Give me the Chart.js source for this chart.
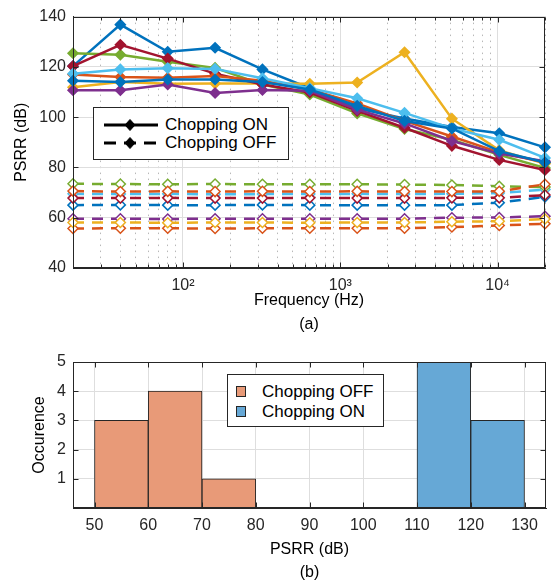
<!DOCTYPE html>
<html>
<head>
<meta charset="utf-8">
<script src="https://cdn.jsdelivr.net/npm/chart.js@4.4.1/dist/chart.umd.min.js"></script>
<style>
  html, body { margin: 0; padding: 0; background: #fff; }
  #wrap { position: relative; width: 553px; height: 584px; font-family: 'Liberation Sans', Arial, Helvetica, sans-serif; color: #000; }
  canvas { position: absolute; left: 0; }
  #psrr { top: 0; }
  #hist { top: 340px; }
  .legend { position: absolute; background: #fff; border: 1px solid #262626; box-sizing: border-box; }
  .row { position: absolute; left: 0; height: 18px; width: 100%; }
  .row svg, .row .patch { position: absolute; }
  .row span { position: absolute; line-height: 18px; font-size: 17px; white-space: nowrap; }
  .patch { width: 10px; height: 11px; border: 1px solid #262626; box-sizing: border-box; top: 3px; }
</style>
</head>
<body>
<div id="wrap">
  <canvas id="psrr" width="553" height="340"></canvas>
  <canvas id="hist" width="553" height="244"></canvas>

  <div class="legend" style="left:93px;top:107px;width:196px;height:53px">
    <div class="row" style="top:8px">
      <svg width="54" height="18" style="left:10px;top:0">
        <line x1="0" y1="9" x2="54" y2="9" stroke="#000" stroke-width="3"/>
        <path d="M26 3.5 L31 9 L26 14.5 L21 9 Z" fill="#000" stroke="#000" stroke-width="1"/>
      </svg>
      <span style="left:71px">Chopping ON</span>
    </div>
    <div class="row" style="top:26px">
      <svg width="54" height="18" style="left:10px;top:0">
        <line x1="0" y1="9" x2="54" y2="9" stroke="#000" stroke-width="3" stroke-dasharray="12 8"/>
        <path d="M26 3.5 L31 9 L26 14.5 L21 9 Z" fill="#000" stroke="#000" stroke-width="1"/>
      </svg>
      <span style="left:71px">Chopping OFF</span>
    </div>
  </div>

  <div class="legend" style="left:227px;top:374px;width:157px;height:53px">
    <div class="row" style="top:8px">
      <div class="patch" style="left:8px;background:#E89A78"></div>
      <span style="left:34px">Chopping OFF</span>
    </div>
    <div class="row" style="top:28px">
      <div class="patch" style="left:8px;background:#66A8D6"></div>
      <span style="left:34px">Chopping ON</span>
    </div>
  </div>
</div>

<script>
// Frequency sweep (Hz)
const FREQ = [20, 40, 80, 160, 320, 640, 1280, 2560, 5120, 10240, 20000];

// Chopping ON, PSRR (dB)
const ON_BLUE_1 = [120.3, 136.8, 126.0, 127.6, 119.0, 111.5, 103.5, 99.5, 96.1, 93.6, 88.0];
const ON_YELLOW = [111.9, 114.0, 113.3, 113.4, 113.4, 113.3, 113.8, 125.8, 99.4, 86.8, 81.5];
const ON_GREEN = [125.4, 124.8, 122.0, 119.6, 113.0, 109.0, 101.5, 95.3, 91.0, 85.0, 79.8];
const ON_RED = [120.3, 128.8, 123.3, 117.3, 113.0, 109.8, 102.5, 95.8, 88.6, 83.0, 79.0];
const ON_ORANGE = [117.0, 116.0, 115.7, 116.4, 114.5, 111.0, 105.5, 98.5, 92.3, 86.0, 82.0];
const ON_PURPLE = [110.7, 110.7, 113.0, 109.6, 110.8, 110.5, 103.0, 97.5, 90.5, 85.5, 82.5];
const ON_LBLUE = [117.3, 119.0, 119.5, 119.2, 115.5, 111.5, 107.5, 101.7, 95.5, 91.0, 83.8];
const ON_BLUE_2 = [114.5, 114.0, 115.0, 115.0, 114.0, 111.0, 104.5, 98.5, 95.5, 86.5, 82.0];

// Chopping OFF, PSRR (dB)
const OFF_ORANGE_1 = [55.7, 55.8, 55.8, 55.7, 55.8, 55.8, 55.8, 55.8, 56.3, 56.9, 57.6];
const OFF_PURPLE = [59.6, 59.6, 59.5, 59.6, 59.6, 59.6, 59.6, 59.6, 60.0, 60.1, 60.6];
const OFF_LBLUE = [69.5, 69.4, 69.5, 69.3, 69.4, 69.4, 69.5, 69.4, 69.5, 69.8, 71.2];
const OFF_BLUE = [65.0, 65.1, 65.0, 65.0, 65.1, 65.0, 65.0, 65.0, 65.0, 66.0, 68.3];
const OFF_YELLOW = [58.1, 58.1, 58.0, 58.1, 58.1, 58.0, 58.1, 58.1, 58.4, 58.6, 59.5];
const OFF_GREEN = [73.5, 73.4, 73.3, 73.4, 73.3, 73.3, 73.3, 73.2, 73.0, 72.5, 72.2];
const OFF_RED = [67.8, 67.8, 67.9, 67.8, 67.8, 67.9, 67.8, 67.8, 67.9, 67.9, 69.0];
const OFF_ORANGE_2 = [70.6, 70.4, 70.5, 70.4, 70.5, 70.4, 70.5, 70.4, 70.4, 70.5, 73.3];

// Axis ticks
const FREQ_TICKS = [20, 30, 40, 50, 60, 70, 80, 90,
  100, 200, 300, 400, 500, 600, 700, 800, 900,
  1000, 2000, 3000, 4000, 5000, 6000, 7000, 8000, 9000,
  10000, 20000];
const FREQ_TICK_LABELS = { 100: '10²', 1000: '10³', 10000: '10⁴' };
const PSRR_TICKS = [40, 60, 80, 100, 120, 140];

// Histogram
const HIST_OFF_EDGES = [50, 60, 70, 80];
const HIST_OFF_COUNTS = [3, 4, 1];
const HIST_ON_EDGES = [110, 120, 130];
const HIST_ON_COUNTS = [5, 3];
const HIST_X_TICKS = [50, 60, 70, 80, 90, 100, 110, 120, 130];
const HIST_Y_TICKS = [1, 2, 3, 4, 5];

// Styles
const AXIS_COLOR = '#262626';
const GRID_COLOR = '#dedede';
const MINOR_GRID_COLOR = '#b8b8b8';
const FONT = { family: "'Liberation Sans', Arial, Helvetica, sans-serif", size: 16 };
const COLORS = {
  blue: '#0072BD', orange: '#D95319', yellow: '#EDB120', purple: '#7E2F8E',
  green: '#77AC30', lblue: '#4DBEEE', red: '#A2142F'
};

// Plotting order (ON/OFF interleaved, colour cycle continues)
const SERIES = [
  { data: ON_BLUE_1, color: COLORS.blue, on: true },
  { data: OFF_ORANGE_1, color: COLORS.orange, on: false },
  { data: ON_YELLOW, color: COLORS.yellow, on: true },
  { data: OFF_PURPLE, color: COLORS.purple, on: false },
  { data: ON_GREEN, color: COLORS.green, on: true },
  { data: OFF_LBLUE, color: COLORS.lblue, on: false },
  { data: ON_RED, color: COLORS.red, on: true },
  { data: OFF_BLUE, color: COLORS.blue, on: false },
  { data: ON_ORANGE, color: COLORS.orange, on: true },
  { data: OFF_YELLOW, color: COLORS.yellow, on: false },
  { data: ON_PURPLE, color: COLORS.purple, on: true },
  { data: OFF_GREEN, color: COLORS.green, on: false },
  { data: ON_LBLUE, color: COLORS.lblue, on: true },
  { data: OFF_RED, color: COLORS.red, on: false },
  { data: ON_BLUE_2, color: COLORS.blue, on: true },
  { data: OFF_ORANGE_2, color: COLORS.orange, on: false }
];

Chart.defaults.font.family = FONT.family;
Chart.defaults.color = AXIS_COLOR;

const isMinorFreq = (v) => !FREQ_TICK_LABELS[v];

// Box around the plot area plus inward tick marks on all four sides
const frameAndTicks = {
  id: 'frameAndTicks',
  afterDraw(chart, args, opts) {
    const { ctx, chartArea: a, scales } = chart;
    const L = Math.round(a.left) + 0.5, R = Math.round(a.right) - 0.5;
    const T = Math.round(a.top) + 0.5, B = Math.round(a.bottom) - 0.5;
    ctx.save();
    ctx.strokeStyle = AXIS_COLOR;
    ctx.lineWidth = 1;
    ctx.beginPath();
    scales.x.ticks.forEach((t) => {
      const px = Math.round(scales.x.getPixelForValue(t.value)) + 0.5;
      const len = opts.minorX && opts.minorX(t.value) ? 3 : 5;
      ctx.moveTo(px, B); ctx.lineTo(px, B - len);
      ctx.moveTo(px, T); ctx.lineTo(px, T + len);
    });
    scales.y.ticks.forEach((t) => {
      const py = Math.round(scales.y.getPixelForValue(t.value)) + 0.5;
      ctx.moveTo(L, py); ctx.lineTo(L + 5, py);
      ctx.moveTo(R, py); ctx.lineTo(R - 5, py);
    });
    ctx.stroke();
    ctx.strokeRect(L, T, R - L, B - T);
    ctx.restore();
  }
};

const createPsrrChart = () => {
  const datasets = SERIES.map((s, i) => ({
    label: s.on ? 'Chopping ON' : 'Chopping OFF',
    data: s.data,
    borderColor: s.color,
    backgroundColor: s.color,
    borderWidth: 2.5,
    borderDash: s.on ? [] : [11, 8],
    pointStyle: 'rectRot',
    pointRadius: 5,
    pointBorderWidth: 1.5,
    pointBorderColor: s.color,
    pointBackgroundColor: s.on ? s.color : '#ffffff',
    tension: 0,
    clip: false,
    order: SERIES.length - i
  }));

  return new Chart(document.getElementById('psrr'), {
    type: 'line',
    data: { labels: FREQ, datasets },
    options: {
      responsive: false,
      animation: false,
      layout: { padding: { top: 11, right: 7, bottom: 0, left: 0 } },
      plugins: {
        legend: { display: false },
        tooltip: { enabled: false },
        frameAndTicks: { minorX: isMinorFreq }
      },
      scales: {
        x: {
          type: 'logarithmic',
          min: 20,
          max: 20000,
          afterBuildTicks: (scale) => { scale.ticks = FREQ_TICKS.map((v) => ({ value: v })); },
          afterFit: (scale) => { scale.height = 72; },
          ticks: {
            autoSkip: false,
            maxRotation: 0,
            padding: 8,
            font: FONT,
            color: AXIS_COLOR,
            callback: (v) => FREQ_TICK_LABELS[v] || ''
          },
          grid: {
            drawTicks: false,
            color: (ctx) => (ctx.tick && isMinorFreq(ctx.tick.value) ? MINOR_GRID_COLOR : GRID_COLOR)
          },
          border: {
            color: AXIS_COLOR,
            dash: (ctx) => (ctx.tick && isMinorFreq(ctx.tick.value) ? [1.5, 4.5] : [])
          },
          title: {
            display: true,
            text: ['Frequency (Hz)', '(a)'],
            font: { ...FONT, lineHeight: 1.5 },
            color: '#000',
            padding: { top: 0, bottom: 3.5 }
          }
        },
        y: {
          min: 40,
          max: 140,
          afterBuildTicks: (scale) => { scale.ticks = PSRR_TICKS.map((v) => ({ value: v })); },
          afterFit: (scale) => { scale.width = 73; },
          ticks: { padding: 7, font: FONT, color: AXIS_COLOR },
          grid: { drawTicks: false, color: GRID_COLOR },
          border: { color: AXIS_COLOR },
          title: {
            display: true,
            text: 'PSRR (dB)',
            font: FONT,
            color: '#000',
            padding: { top: 12.4, bottom: 0 }
          }
        }
      }
    },
    plugins: [frameAndTicks]
  });
};

const binCenters = (edges) => edges.slice(0, -1).map((e, i) => (e + edges[i + 1]) / 2);

const createHistChart = () => {
  const barStyle = {
    borderColor: AXIS_COLOR,
    borderWidth: 1,
    borderSkipped: false,
    barPercentage: 1,
    categoryPercentage: 1,
    grouped: false
  };

  return new Chart(document.getElementById('hist'), {
    type: 'bar',
    data: {
      datasets: [
        {
          label: 'Chopping OFF',
          data: binCenters(HIST_OFF_EDGES).map((x, i) => ({ x, y: HIST_OFF_COUNTS[i] })),
          backgroundColor: '#E89A78',
          ...barStyle
        },
        {
          label: 'Chopping ON',
          data: binCenters(HIST_ON_EDGES).map((x, i) => ({ x, y: HIST_ON_COUNTS[i] })),
          backgroundColor: '#66A8D6',
          ...barStyle
        }
      ]
    },
    options: {
      responsive: false,
      animation: false,
      layout: { padding: { top: 22, right: 7, bottom: 0, left: 0 } },
      plugins: {
        legend: { display: false },
        tooltip: { enabled: false },
        frameAndTicks: {}
      },
      scales: {
        x: {
          type: 'linear',
          min: 46,
          max: 134,
          offset: false,
          afterBuildTicks: (scale) => { scale.ticks = HIST_X_TICKS.map((v) => ({ value: v })); },
          afterFit: (scale) => { scale.height = 76; },
          ticks: { autoSkip: false, maxRotation: 0, padding: 8, font: FONT, color: AXIS_COLOR },
          grid: { offset: false, drawTicks: false, color: GRID_COLOR },
          border: { color: AXIS_COLOR },
          title: {
            display: true,
            text: ['PSRR (dB)', '(b)'],
            font: { ...FONT, lineHeight: 1.4375 },
            color: '#000',
            padding: { top: 0, bottom: 0 }
          }
        },
        y: {
          min: 0,
          max: 5,
          afterBuildTicks: (scale) => { scale.ticks = HIST_Y_TICKS.map((v) => ({ value: v })); },
          afterFit: (scale) => { scale.width = 73; },
          ticks: { padding: 7, font: FONT, color: AXIS_COLOR },
          grid: { drawTicks: false, color: GRID_COLOR },
          border: { color: AXIS_COLOR },
          title: {
            display: true,
            text: 'Occurence',
            font: FONT,
            color: '#000',
            padding: { top: 30.4, bottom: 0 }
          }
        }
      }
    },
    plugins: [frameAndTicks]
  });
};

document.addEventListener('DOMContentLoaded', () => {
  try {
    createPsrrChart();
    createHistChart();
  } catch (error) {
    console.error('Chart initialization failed:', error);
  }
});
</script>
</body>
</html>
